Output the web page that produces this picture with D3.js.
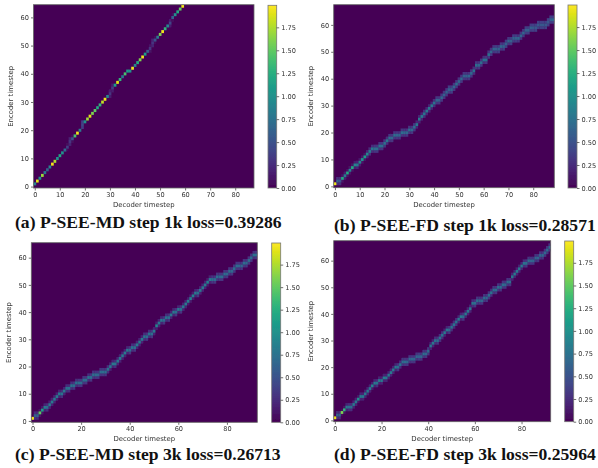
<!DOCTYPE html>
<html>
<head>
<meta charset="utf-8">
<script src="https://cdn.jsdelivr.net/npm/d3@7"></script>
<style>
  html, body { margin: 0; padding: 0; background: #fff; }
  svg { display: block; }
  text { font-family: "DejaVu Sans", sans-serif; fill: #333; }
  text.caption { font-family: "Liberation Serif", serif; font-weight: bold; font-size: 17.6px; fill: #111; }
</style>
</head>
<body>
<div id="chart"></div>
<script>
// encoder step with the highest attention, one entry per decoder step
var pathA = [1,2,3,4,5,6,7,8,9,10,11,12,13,14,16,17,18,19,20,22,23,24,25,26,27,28,29,30,31,32,33,35,36,37,38,39,40,41,41,42,43,44,45,46,47,48,49,51,52,53,54,55,56,57,58,60,61,62,63,64];
var pathB = [1,2,2,3,4,5,6,7,8,8,9,10,11,12,13,14,14,14,15,15,16,17,18,18,19,19,19,20,20,20,21,21,22,23,25,26,27,28,29,30,31,32,32,33,34,35,36,36,37,38,39,40,41,41,41,42,43,45,45,46,47,47,49,50,51,51,51,52,52,53,54,54,55,55,55,56,57,58,58,59,59,59,60,60,60,60,61,62,62];
var pathC = [1,2,2,3,4,5,5,6,7,8,9,10,10,11,12,12,13,13,14,14,14,15,15,16,16,17,17,17,18,18,18,19,20,21,21,22,23,24,25,26,26,27,27,28,29,30,31,31,32,32,33,35,36,37,37,38,38,39,40,40,41,41,42,43,44,45,46,47,47,48,49,50,51,52,52,52,53,53,53,54,54,55,55,56,57,57,57,58,58,59,60,61,61];
var pathD = [1,2,2,3,4,5,5,5,6,7,8,9,9,10,11,12,13,14,14,15,15,16,16,17,18,19,20,20,21,22,22,22,23,23,23,24,24,24,25,25,26,28,29,30,30,31,32,33,34,34,35,36,37,38,39,39,40,41,42,44,44,45,45,45,46,46,47,48,49,49,50,50,51,51,52,52,54,55,56,57,58,59,59,60,60,60,61,61,62,62,63,64,65];

// attention value on that cell
var peakA = [.9,1.9,1,1.7,.8,.6,.9,1.95,1.75,1,1.2,1,.7,.35,.3,.5,1.4,1.95,.8,.4,1,1.7,1.9,1.6,1.5,1.2,1.3,1.8,1.95,.9,.3,.35,1.1,1.9,1.3,.8,1.4,1.1,1,1.95,.9,1.2,1.6,1.95,1.1,.6,.3,.3,.5,.8,1.6,1.95,1.3,.9,.4,.6,1,1.2,1.5,1.95];
var peakB = [1.95,.6,.5,1.2,.8,1.2,.9,1.2,.9,.8,.9,1,1.1,.9,.8,.8,.7,.7,.75,.7,.7,.8,.7,.65,.7,.65,.65,.7,.65,.65,.7,.65,.7,.8,.8,.8,.75,.8,.8,.8,.75,.65,.6,.65,.6,.6,.6,.6,.65,.7,.65,.65,.6,.6,.65,.65,.75,.7,.65,.7,.75,.7,.7,.65,.65,.6,.6,.65,.6,.6,.65,.6,.6,.6,.65,.65,.65,.6,.6,.6,.55,.55,.55,.55,.55,.55,.55,.6,.65];
var peakC = [1.95,.6,.6,1.5,1.1,.8,.7,.8,.8,.8,.8,.8,.75,.8,.75,.75,.75,.7,.75,.7,.7,.7,.7,.75,.7,.7,.7,.65,.7,.7,.7,.75,.8,.8,.75,.8,.8,.8,.8,.8,.7,.75,.7,.8,.8,.8,.75,.7,.75,.7,.8,.9,.8,.8,.7,.75,.7,.8,.8,.7,.8,.7,.8,.8,.85,.85,.85,.8,.7,.8,.8,.8,.85,.8,.7,.7,.7,.65,.7,.7,.65,.7,.65,.7,.7,.65,.65,.7,.65,.7,.7,.75,.7];
var peakD = [1.95,.6,.6,1.6,1.3,.8,.7,.7,.8,.8,1,.8,.8,.8,.8,.8,.9,.8,.75,.8,.8,.85,.8,.8,.8,.8,.8,.7,.75,.7,.7,.65,.65,.65,.65,.65,.6,.65,.7,.65,.7,.8,.8,.75,.7,.75,.75,.8,.8,.7,.75,.75,.75,.8,.8,.7,.8,.8,.8,.75,.7,.7,.65,.65,.7,.65,.7,.75,.7,.7,.7,.7,.7,.65,.7,.7,.8,.8,.8,.8,.8,.75,.7,.7,.65,.65,.65,.65,.65,.65,.65,.7,.7];

// attention value on the cells just above and below it
var sideA = [0,0,0,0,0,0,0,0,0,0,0,0,0,.04,.2,.05,0,0,0,.35,0,0,0,0,0,0,0,0,0,0,.15,.15,0,0,0,0,0,0,0,0,0,0,0,0,0,0,.1,.2,.05,0,0,0,0,0,.15,.05,0,0,0,0];
var sideB = [.02,.25,.25,.1,.15,.1,.12,.1,.15,.2,.15,.12,.1,.2,.25,.25,.3,.3,.3,.3,.3,.25,.3,.3,.3,.3,.3,.3,.3,.3,.3,.3,.3,.2,.2,.2,.25,.2,.2,.2,.25,.3,.3,.3,.3,.3,.35,.35,.3,.3,.3,.3,.3,.3,.3,.3,.25,.3,.3,.3,.25,.3,.3,.3,.3,.35,.35,.3,.35,.35,.3,.35,.35,.35,.3,.3,.3,.35,.35,.35,.38,.38,.38,.38,.38,.38,.38,.35,.35];
var sideC = [.02,.25,.25,.1,.12,.2,.25,.2,.2,.2,.2,.2,.25,.2,.25,.25,.25,.3,.25,.3,.3,.3,.3,.25,.3,.3,.3,.3,.3,.3,.3,.25,.2,.2,.25,.2,.2,.2,.2,.2,.3,.25,.3,.2,.2,.2,.25,.3,.25,.3,.2,.15,.2,.2,.3,.25,.3,.2,.2,.3,.2,.3,.2,.2,.15,.15,.15,.2,.3,.2,.2,.2,.15,.2,.3,.3,.3,.3,.3,.3,.3,.3,.3,.3,.3,.3,.3,.3,.3,.3,.3,.25,.3];
var sideD = [.02,.25,.25,.05,.1,.2,.25,.25,.2,.2,.12,.2,.2,.2,.2,.2,.15,.2,.25,.2,.2,.18,.2,.2,.2,.2,.2,.3,.25,.3,.3,.3,.3,.3,.3,.3,.35,.3,.3,.3,.3,.2,.2,.25,.3,.25,.25,.2,.2,.3,.25,.25,.25,.2,.2,.3,.2,.2,.2,.25,.3,.3,.3,.3,.3,.3,.3,.25,.3,.3,.3,.3,.3,.3,.3,.3,.2,.2,.2,.2,.2,.25,.3,.3,.3,.3,.3,.3,.3,.3,.3,.3,.3];

var xTicks40 = [0,10,20,30,40,50,60,70,80];
var xTicks20 = [0,20,40,60,80];
var yTicks = [0,10,20,30,40,50,60];
var barTicks = [0,.25,.5,.75,1,1.25,1.5,1.75];
var captions = [
  "(a) P-SEE-MD step 1k loss=0.39286",
  "(b) P-SEE-FD step 1k loss=0.28571",
  "(c) P-SEE-MD step 3k loss=0.26713",
  "(d) P-SEE-FD step 3k loss=0.25964"
];

var panels = [
  {path: pathA, peak: peakA, side: sideA, cols: 88, rows: 65, xTicks: xTicks40, caption: captions[0],
   box: [33.5, 4.7, 254, 188], bar: [268, 5.3, 276.7, 188], capX: 15, capY: 228},
  {path: pathB, peak: peakB, side: sideB, cols: 89, rows: 68, xTicks: xTicks40, caption: captions[1],
   box: [333.7, 4.7, 554.3, 187.7], bar: [568, 5, 577, 188], capX: 334, capY: 231},
  {path: pathC, peak: peakC, side: sideC, cols: 93, rows: 66, xTicks: xTicks20, caption: captions[2],
   box: [31.3, 242.7, 257.3, 422.3], bar: [271.7, 243, 280.7, 422.3], capX: 15, capY: 460},
  {path: pathD, peak: peakD, side: sideD, cols: 93, rows: 68, xTicks: xTicks20, caption: captions[3],
   box: [333.7, 240.7, 550.7, 421.7], bar: [564.7, 241, 573.7, 421.7], capX: 334, capY: 460}
];

var barMax = 1.99;
var color = d3.scaleSequential(d3.interpolateViridis).domain([0, barMax]);

var svg = d3.select("#chart").append("svg")
  .attr("width", 598)
  .attr("height", 468);

var defs = svg.append("defs");

// the reference is a soft upscaled bitmap
defs.append("filter")
    .attr("id", "soft")
    .attr("x", "-5%").attr("y", "-5%").attr("width", "110%").attr("height", "110%")
  .append("feGaussianBlur").attr("stdDeviation", 0.3);

// colorbar fill, shared by all four panels
defs.append("linearGradient")
    .attr("id", "viridisBar")
    .attr("x1", 0).attr("y1", 1).attr("x2", 0).attr("y2", 0)
  .selectAll("stop")
  .data(d3.range(0, 1.0001, 0.05))
  .enter().append("stop")
    .attr("offset", function(d) { return d; })
    .attr("stop-color", function(d) { return d3.interpolateViridis(d); });

panels.forEach(function(p, idx) {
  var g = svg.append("g").attr("filter", "url(#soft)");

  var x = d3.scaleLinear().domain([-0.5, p.cols - 0.5]).range([p.box[0], p.box[2]]);
  var y = d3.scaleLinear().domain([-0.5, p.rows - 0.5]).range([p.box[3], p.box[1]]);

  var clipId = "clip" + idx;
  defs.append("clipPath").attr("id", clipId)
    .append("rect")
      .attr("x", p.box[0]).attr("y", p.box[1])
      .attr("width", p.box[2] - p.box[0]).attr("height", p.box[3] - p.box[1]);

  g.append("rect")
      .attr("x", p.box[0]).attr("y", p.box[1])
      .attr("width", p.box[2] - p.box[0]).attr("height", p.box[3] - p.box[1])
      .attr("fill", color(0));

  // one cell for the peak and one either side of it
  var cells = [];
  p.path.forEach(function(row, col) {
    if (p.side[col] > 0) {
      cells.push({col: col, row: row - 1, value: p.side[col]});
      cells.push({col: col, row: row + 1, value: p.side[col]});
    }
  });
  p.path.forEach(function(row, col) {
    cells.push({col: col, row: row, value: p.peak[col]});
  });

  g.append("g")
      .attr("clip-path", "url(#" + clipId + ")")
    .selectAll("rect")
    .data(cells)
    .enter().append("rect")
      .attr("x", function(d) { return x(d.col - 0.5); })
      .attr("y", function(d) { return y(d.row + 0.5); })
      .attr("width", function(d) { return x(d.col + 0.5) - x(d.col - 0.5) + 0.2; })
      .attr("height", function(d) { return y(d.row - 0.5) - y(d.row + 0.5) + 0.2; })
      .attr("fill", function(d) { return color(d.value); });

  var xAxis = d3.axisBottom(x).tickValues(p.xTicks).tickSize(2.5).tickPadding(2).tickFormat(d3.format("d"));
  var yAxis = d3.axisLeft(y).tickValues(yTicks).tickSize(2.5).tickPadding(2).tickFormat(d3.format("d"));

  g.append("g").attr("transform", "translate(0," + p.box[3] + ")").call(xAxis);
  g.append("g").attr("transform", "translate(" + p.box[0] + ",0)").call(yAxis);
  g.selectAll(".domain").remove();
  g.selectAll(".tick line").attr("stroke", "#333").attr("stroke-width", 0.7);
  g.selectAll(".tick text").attr("font-size", 6.6).attr("font-family", null);

  g.append("rect")
      .attr("x", p.box[0]).attr("y", p.box[1])
      .attr("width", p.box[2] - p.box[0]).attr("height", p.box[3] - p.box[1])
      .attr("fill", "none")
      .attr("stroke", "#666")
      .attr("stroke-width", 0.8);

  g.append("text")
      .attr("x", (p.box[0] + p.box[2]) / 2)
      .attr("y", p.box[3] + 19)
      .attr("text-anchor", "middle")
      .attr("font-size", 6.9)
      .text("Decoder timestep");

  g.append("text")
      .attr("transform", "translate(" + (p.box[0] - 20.5) + "," + ((p.box[1] + p.box[3]) / 2) + ") rotate(-90)")
      .attr("text-anchor", "middle")
      .attr("font-size", 6.9)
      .text("Encoder timestep");

  // colorbar
  var barY = d3.scaleLinear().domain([0, barMax]).range([p.bar[3], p.bar[1]]);

  g.append("rect")
      .attr("x", p.bar[0]).attr("y", p.bar[1])
      .attr("width", p.bar[2] - p.bar[0]).attr("height", p.bar[3] - p.bar[1])
      .attr("fill", "url(#viridisBar)")
      .attr("stroke", "#777")
      .attr("stroke-width", 0.8);

  var barAxis = d3.axisRight(barY).tickValues(barTicks).tickSize(2.5).tickPadding(2).tickFormat(d3.format(".2f"));
  var barG = g.append("g").attr("transform", "translate(" + p.bar[2] + ",0)").call(barAxis);
  barG.select(".domain").remove();
  barG.selectAll(".tick line").attr("stroke", "#333").attr("stroke-width", 0.7);
  barG.selectAll(".tick text").attr("font-size", 6.6).attr("font-family", null);

  svg.append("text")
      .attr("class", "caption")
      .attr("x", p.capX)
      .attr("y", p.capY)
      .text(p.caption);
});
</script>
</body>
</html>
